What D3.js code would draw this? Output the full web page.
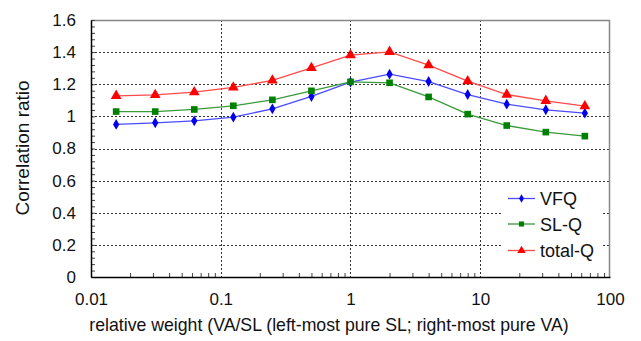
<!DOCTYPE html>
<html><head><meta charset="utf-8">
<script src="https://cdn.jsdelivr.net/npm/d3@7"></script>
<style>body{margin:0;background:#fff}svg{display:block;font-family:"Liberation Sans",Arial,sans-serif}</style>
</head><body><svg id="c" width="641" height="341"></svg>
<script>
const xValues = [1/64, 1/32, 1/16, 1/8, 1/4, 1/2, 1, 2, 4, 8, 16, 32, 64];
const vfq    = [0.950, 0.960, 0.972, 0.995, 1.047, 1.124, 1.213, 1.263, 1.217, 1.136, 1.076, 1.041, 1.020];
const slq    = [1.030, 1.030, 1.043, 1.066, 1.103, 1.159, 1.215, 1.209, 1.121, 1.014, 0.943, 0.902, 0.877];
const totalq = [1.128, 1.134, 1.151, 1.180, 1.224, 1.302, 1.381, 1.402, 1.319, 1.219, 1.136, 1.097, 1.064];
const seriesNames = ["VFQ", "SL-Q", "total-Q"];
const xTicks = [0.01, 0.1, 1, 10, 100];
const xTickLabels = ["0.01", "0.1", "1", "10", "100"];
const yTicks = [0, 0.2, 0.4, 0.6, 0.8, 1, 1.2, 1.4, 1.6];
const yTickLabels = ["0", "0.2", "0.4", "0.6", "0.8", "1", "1.2", "1.4", "1.6"];

const svg = d3.select("#c");
const L = 91, R = 610, T = 20, B = 277;
const x = d3.scaleLog().domain([0.01, 100]).range([L, R]);
const y = d3.scaleLinear().domain([0, 1.6]).range([B, T]);

// grid
const grid = svg.append("g").attr("stroke", "#333").attr("stroke-width", 1).attr("stroke-dasharray", "2,2");
yTicks.slice(1, -1).forEach(v => grid.append("line").attr("x1", L).attr("x2", R).attr("y1", Math.round(y(v)) + 0.5).attr("y2", Math.round(y(v)) + 0.5));
xTicks.slice(1, -1).forEach(v => grid.append("line").attr("y1", T).attr("y2", B).attr("x1", Math.round(x(v)) + 0.5).attr("x2", Math.round(x(v)) + 0.5));

// frame top/right
svg.append("line").attr("x1", L).attr("x2", R).attr("y1", T + 0.5).attr("y2", T + 0.5).attr("stroke", "#888").attr("stroke-width", 1.5);
svg.append("line").attr("x1", R - 0.5).attr("x2", R - 0.5).attr("y1", T).attr("y2", B).attr("stroke", "#888").attr("stroke-width", 1.5);

// minor ticks
const yMinor = d3.range(0, 1.6001, 0.04);
const yAxis = d3.axisRight(y).tickValues(yMinor).tickSize(4).tickFormat("");
svg.append("g").attr("transform", `translate(${L},0)`).call(yAxis)
  .call(g => { g.select(".domain").remove(); g.selectAll("line").attr("stroke", "#444"); });
const xMinor = [];
[0.01, 0.1, 1, 10].forEach(d => { for (let k = 2; k <= 9; k++) xMinor.push(d * k); });
const xAxisMinor = d3.axisTop(x).tickValues(xMinor).tickSize(4).tickFormat("");
svg.append("g").attr("transform", `translate(0,${B})`).call(xAxisMinor)
  .call(g => { g.select(".domain").remove(); g.selectAll("line").attr("stroke", "#444"); });

// main axes
const yAxisMain = d3.axisLeft(y).tickValues(yTicks).tickSize(0).tickPadding(15).tickFormat((d, i) => yTickLabels[i]);
svg.append("g").attr("transform", `translate(${L},0)`).call(yAxisMain)
  .call(g => { g.select(".domain").attr("stroke", "#000").attr("stroke-width", 1.5); g.selectAll("text").attr("font-size", 17).attr("fill", "#111").attr("font-family", "Liberation Sans, Arial"); });
const xAxisMain = d3.axisBottom(x).tickValues(xTicks).tickSize(0).tickPadding(16).tickFormat((d, i) => xTickLabels[i]);
svg.append("g").attr("transform", `translate(0,${B})`).call(xAxisMain)
  .call(g => { g.select(".domain").attr("stroke", "#000").attr("stroke-width", 1.5); g.selectAll("text").attr("font-size", 17).attr("fill", "#111").attr("font-family", "Liberation Sans, Arial"); });

// axis titles
svg.append("text").attr("x", 329).attr("y", 331).attr("text-anchor", "middle").attr("font-size", 17.7).attr("fill", "#111")
  .text("relative weight (VA/SL (left-most pure SL; right-most pure VA)");
svg.append("text").attr("transform", "translate(29,148) rotate(-90)").attr("text-anchor", "middle").attr("font-size", 19).attr("fill", "#111")
  .text("Correlation ratio");

// series
const series = [
  {name: seriesNames[0], values: vfq, line: "#4a4aff", fill: "#0000ee", shape: d3.symbolDiamond, size: 34},
  {name: seriesNames[1], values: slq, line: "#3a9a3a", fill: "#008000", shape: d3.symbolSquare, size: 44},
  {name: seriesNames[2], values: totalq, line: "#ff4a4a", fill: "#ff0000", shape: d3.symbolTriangle, size: 50}
];
const lineGen = d3.line().x((d, i) => x(xValues[i])).y(d => y(d));
series.forEach(s => {
  svg.append("path").attr("d", lineGen(s.values)).attr("fill", "none").attr("stroke", s.line).attr("stroke-width", 1.3);
  svg.append("g").selectAll("path").data(s.values).join("path")
    .attr("transform", (d, i) => `translate(${x(xValues[i])},${y(d)})`)
    .attr("d", d3.symbol().type(s.shape).size(s.size)).attr("fill", s.fill);
});

// legend
const lg = svg.append("g");
lg.append("rect").attr("x", 502).attr("y", 185).attr("width", 100).attr("height", 80).attr("fill", "#fff");
const legY = [198.5, 224, 250.5];
series.forEach((s, i) => {
  lg.append("line").attr("x1", 508).attr("x2", 535).attr("y1", legY[i]).attr("y2", legY[i]).attr("stroke", s.line).attr("stroke-width", 1.3);
  lg.append("path").attr("transform", `translate(521.5,${legY[i]})`).attr("d", d3.symbol().type(s.shape).size(s.size * 0.6)).attr("fill", s.fill);
  lg.append("text").attr("x", 540).attr("y", legY[i] + 6.5).attr("font-size", 18).attr("fill", "#111").text(s.name);
});
</script></body></html>
